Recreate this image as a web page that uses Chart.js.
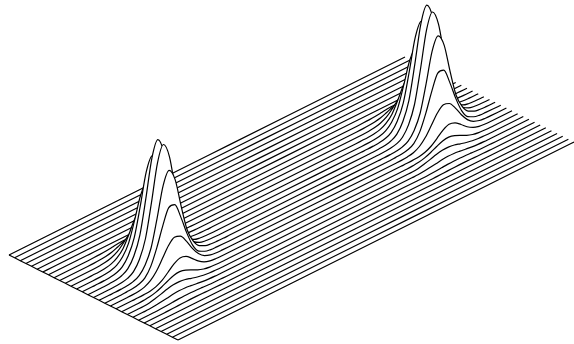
<!DOCTYPE html>
<html>
<head>
<meta charset="utf-8">
<style>
  html, body { margin: 0; padding: 0; background: #fff; }
  canvas { display: block; }
</style>
<script src="https://cdn.jsdelivr.net/npm/chart.js@4"></script>
</head>
<body>
<canvas id="chart" width="574" height="344"></canvas>
<script>
// along-line sample positions (px run from the start of each trace)
const flatStart = [0, 10, 16];
const firstColumns = [22, 28, 34, 40, 46, 52, 58, 64, 70, 76, 82, 88, 94, 100, 106, 112, 118];
const flatMiddle = [124, 130, 200, 279, 285];
const secondColumns = [291, 297, 303, 309, 315, 321, 327, 333, 339, 345, 351, 357, 363, 369, 375, 381, 387];
const flatEnd = [393, 396];

const traceCount = 31;
const firstBumpTrace = 8; // traces before/after the tables below are flat

const firstRidge = [
  [0, 0, 0, 0.1, 0.3, 0.7, 1.4, 2.2, 2.5, 2.2, 1.4, 0.7, 0.3, 0.1, 0, 0, 0],
  [0, 0, 0.1, 0.4, 1, 2.2, 4.5, 7, 8, 7, 4.5, 2.2, 1, 0.4, 0.1, 0, 0],
  [0, 0.1, 0.4, 1, 2.6, 5.6, 11.2, 17.4, 20, 17.4, 11.2, 5.6, 2.6, 1, 0.4, 0.1, 0],
  [0.1, 0.2, 0.7, 2, 5.3, 11.5, 23, 35.7, 41, 35.7, 23, 11.5, 5.3, 2, 0.7, 0.2, 0.1],
  [0.1, 0.4, 1.3, 3.6, 9.2, 19.9, 39.8, 61.8, 71, 61.8, 39.8, 19.9, 9.2, 3.6, 1.3, 0.4, 0.1],
  [0.2, 0.6, 1.8, 5, 13.1, 28.3, 56.6, 87.9, 101, 87.9, 56.6, 28.3, 13.1, 5, 1.8, 0.6, 0.2],
  [0.2, 0.7, 2.2, 6, 15.6, 33.6, 67.2, 104.4, 120, 104.4, 67.2, 33.6, 15.6, 6, 2.2, 0.7, 0.2],
  [0.2, 0.7, 2.1, 5.9, 15.3, 33, 66.1, 102.7, 118, 102.7, 66.1, 33, 15.3, 5.9, 2.1, 0.7, 0.2],
  [0.2, 0.6, 1.7, 4.8, 12.4, 26.6, 53.2, 82.7, 95, 82.7, 53.2, 26.6, 12.4, 4.8, 1.7, 0.6, 0.2],
  [0.3, 0.6, 1.9, 5.1, 13.8, 29.3, 48.3, 63.5, 63.5, 48.3, 29.3, 13.8, 5.1, 1.9, 0.6, 0.3, 0.1],
  [0.1, 0.6, 1.9, 5.3, 11.8, 21.4, 31.2, 36.7, 34.9, 26.9, 16.7, 8.4, 3.4, 1.1, 0.3, 0.1, 0],
  [0, 0.2, 0.7, 2.2, 5.4, 10.6, 16, 18.9, 17.4, 12.5, 7, 3, 1, 0.3, 0.1, 0, 0],
  [0.3, 0.9, 2.3, 4.7, 7.7, 10.2, 11, 9.5, 6.7, 3.8, 1.7, 0.6, 0.2, 0, 0, 0, 0],
  [0.6, 2, 3.6, 5.4, 6.7, 6.9, 6, 4.2, 2.5, 1.2, 0.5, 0.2, 0, 0, 0, 0, 0],
  [0.5, 1.3, 2.1, 3, 3.5, 3.4, 2.7, 1.8, 1, 0.5, 0.2, 0.1, 0, 0, 0, 0, 0],
  [0.2, 0.5, 0.9, 1.3, 1.5, 1.4, 1.2, 0.8, 0.4, 0.2, 0.1, 0, 0, 0, 0, 0, 0],
  [0.1, 0.2, 0.4, 0.5, 0.6, 0.6, 0.5, 0.3, 0.2, 0.1, 0, 0, 0, 0, 0, 0, 0]
];

// same for the second ridge
const secondRidge = [
  [0, 0, 0, 0.1, 0.3, 0.7, 1.4, 2.2, 2.5, 2.2, 1.4, 0.7, 0.3, 0.1, 0, 0, 0],
  [0, 0, 0.1, 0.4, 1, 2.2, 4.5, 7, 8, 7, 4.5, 2.2, 1, 0.4, 0.1, 0, 0],
  [0, 0.1, 0.4, 1, 2.6, 5.6, 11.2, 17.4, 20, 17.4, 11.2, 5.6, 2.6, 1, 0.4, 0.1, 0],
  [0.1, 0.2, 0.7, 2, 5.3, 11.5, 23, 35.7, 41, 35.7, 23, 11.5, 5.3, 2, 0.7, 0.2, 0.1],
  [0.1, 0.4, 1.3, 3.6, 9.2, 19.9, 39.8, 61.8, 71, 61.8, 39.8, 19.9, 9.2, 3.6, 1.3, 0.4, 0.1],
  [0.2, 0.6, 1.8, 5, 13.1, 28.3, 56.6, 87.9, 101, 87.9, 56.6, 28.3, 13.1, 5, 1.8, 0.6, 0.2],
  [0.2, 0.7, 2.2, 6, 15.6, 33.6, 67.2, 104.4, 120, 104.4, 67.2, 33.6, 15.6, 6, 2.2, 0.7, 0.2],
  [0.2, 0.7, 2.1, 5.8, 15.1, 32.5, 65, 100.9, 116, 100.9, 65, 32.5, 15.1, 5.8, 2.1, 0.7, 0.2],
  [0.2, 0.6, 1.7, 4.8, 12.4, 26.6, 53.2, 82.7, 95, 82.7, 53.2, 26.6, 12.4, 4.8, 1.7, 0.6, 0.2],
  [0.3, 0.6, 1.9, 5.1, 13.8, 29.3, 48.3, 63.5, 63.5, 48.3, 29.3, 13.8, 5.1, 1.9, 0.6, 0.3, 0.1],
  [0.1, 0.6, 1.8, 5, 11.2, 20.2, 29.5, 34.7, 33, 25.4, 15.8, 7.9, 3.2, 1, 0.3, 0.1, 0],
  [0, 0.2, 0.7, 2.1, 5.1, 10, 15.2, 18, 16.5, 11.8, 6.6, 2.9, 1, 0.3, 0.1, 0, 0],
  [0.3, 0.9, 2.3, 4.7, 7.7, 10.2, 11, 9.5, 6.7, 3.8, 1.7, 0.6, 0.2, 0, 0, 0, 0],
  [0.6, 2, 3.6, 5.4, 6.7, 6.9, 6, 4.2, 2.5, 1.2, 0.5, 0.2, 0, 0, 0, 0, 0],
  [0.5, 1.3, 2.1, 3, 3.5, 3.4, 2.7, 1.8, 1, 0.5, 0.2, 0.1, 0, 0, 0, 0, 0],
  [0.2, 0.5, 0.9, 1.3, 1.5, 1.4, 1.2, 0.8, 0.4, 0.2, 0.1, 0, 0, 0, 0, 0, 0],
  [0.1, 0.2, 0.4, 0.5, 0.6, 0.6, 0.5, 0.3, 0.2, 0.1, 0, 0, 0, 0, 0, 0, 0]
];

// oblique view of the floor, in chart units (chart units = page px here)
const W = 574, H = 344;
const startX = 9, startY = 89;       // back trace, left end (y up from bottom)
const stepX = 169 / 30, stepY = -85 / 30; // moving one trace to the front
const climb = 0.5;                   // floor rise per unit of run

const flatPart = (columns) => columns.map(() => 0);

// heights of one trace across all columns, with flat stretches where no table applies
function traceHeights(trace) {
  const a = firstRidge[trace - firstBumpTrace] || flatPart(firstColumns);
  const b = secondRidge[trace - firstBumpTrace] || flatPart(secondColumns);
  return [...flatPart(flatStart), ...a, ...flatPart(flatMiddle), ...b, ...flatPart(flatEnd)];
}

const columns = [...flatStart, ...firstColumns, ...flatMiddle, ...secondColumns, ...flatEnd];

const lineStyle = { borderColor: "#000", borderWidth: 1.2, showLine: true, pointRadius: 0 };

// Chart.js paints the first dataset last: left edge on top, then front trace, back trace last.
const traces = [];
for (let trace = 0; trace < traceCount; trace++) traces.push(trace);

const datasets = [{
  ...lineStyle,
  data: traces.map((trace) => ({ x: startX + stepX * trace, y: startY + stepY * trace })),
  fill: false,
}];

// Each trace fills white down to the bottom: that is what hides the ones behind it.
for (let trace = traceCount - 1; trace >= 0; trace--) {
  const heights = traceHeights(trace);
  datasets.push({
    ...lineStyle,
    data: columns.map((run, i) => ({
      x: startX + stepX * trace + run,
      y: startY + stepY * trace + run * climb + heights[i],
    })),
    backgroundColor: "#fff",
    fill: "start",
    cubicInterpolationMode: "monotone",
  });
}

new Chart(document.getElementById("chart").getContext("2d"), {
  type: "scatter",
  data: { datasets: datasets },
  options: {
    responsive: false,
    animation: false,
    layout: { padding: 0 },
    plugins: { legend: { display: false }, tooltip: { enabled: false } },
    scales: {
      x: { type: "linear", min: 0, max: W, display: false },
      y: { type: "linear", min: 0, max: H, display: false },
    },
  },
});
</script>
</body>
</html>
